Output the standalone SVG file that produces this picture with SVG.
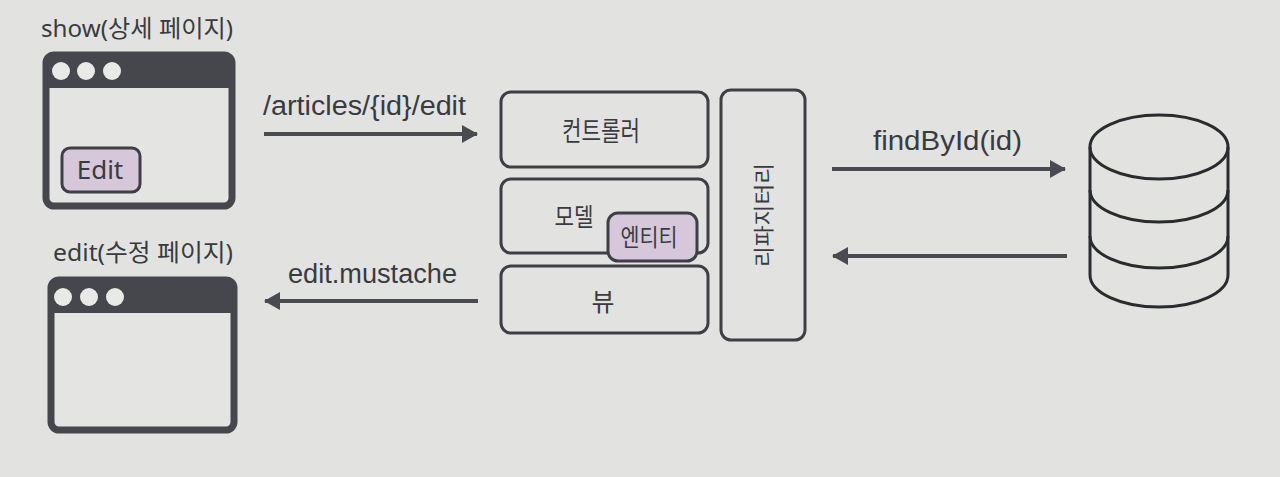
<svg xmlns="http://www.w3.org/2000/svg" width="1280" height="477" viewBox="0 0 1280 477">
<defs>
<style>
.bg{fill:#e2e3e1}
.win{fill:#e4e5e3;stroke:#46474d;stroke-width:7}
.bar{fill:#46474d}
.dot{fill:#e9eae8}
.box{fill:#e2e3e1;stroke:#3e3f44;stroke-width:3}
.pill{fill:#d7c7da;stroke:#3e3f44;stroke-width:3}
.lbl{font-family:"Noto Sans","Noto Sans CJK KR",sans-serif;fill:#3a3b40}
.k{font-family:"Noto Sans CJK KR","Noto Sans",sans-serif;fill:#3a3b40;text-anchor:middle}
.a{font-family:"Liberation Sans",Arial,sans-serif;fill:#3a3b40;font-size:27px}
.conn{stroke:#4a4b50;stroke-width:4;fill:none}
.db{fill:none;stroke:#2a2b2e;stroke-width:3}
</style>
<marker id="ah" viewBox="0 0 16 18" refX="15" refY="9" markerWidth="16" markerHeight="18" markerUnits="userSpaceOnUse" orient="auto">
<path d="M0,0 L16,9 L0,18 Z" fill="#4a4b50"/>
</marker>
</defs>
<rect class="bg" width="1280" height="477"/>

<g id="show-page">
<text class="lbl" x="41" y="37" font-size="24" textLength="192" lengthAdjust="spacingAndGlyphs">show(상세 페이지)</text>
<rect class="win" x="46" y="55" width="186" height="151" rx="8"/>
<path class="bar" d="M46,63 a8,8 0 0 1 8,-8 h170 a8,8 0 0 1 8,8 v25 h-186 z"/>
<circle class="dot" cx="61" cy="71" r="9"/>
<circle class="dot" cx="86" cy="71" r="9"/>
<circle class="dot" cx="112" cy="71" r="9"/>
<rect class="pill" x="62" y="148" width="78" height="44" rx="8"/>
<text class="lbl" x="100" y="179" font-size="26" text-anchor="middle">Edit</text>
</g>

<g id="edit-page">
<text class="lbl" x="53" y="261" font-size="24" textLength="180" lengthAdjust="spacingAndGlyphs">edit(수정 페이지)</text>
<rect class="win" x="51" y="280" width="183" height="150" rx="8"/>
<path class="bar" d="M51,288 a8,8 0 0 1 8,-8 h167 a8,8 0 0 1 8,8 v25 h-183 z"/>
<circle class="dot" cx="63" cy="297" r="9"/>
<circle class="dot" cx="89" cy="297" r="9"/>
<circle class="dot" cx="115" cy="297" r="9"/>
</g>

<g id="controller">
<rect class="box" x="501" y="92" width="207" height="75" rx="10"/>
<text class="k" x="601" y="141" font-size="27" textLength="78" lengthAdjust="spacingAndGlyphs">컨트롤러</text>
</g>

<g id="model">
<rect class="box" x="501" y="179" width="207" height="74" rx="10"/>
<text class="k" x="574" y="226" font-size="25" textLength="39" lengthAdjust="spacingAndGlyphs">모델</text>
</g>

<g id="entity">
<rect class="pill" x="608" y="213" width="89" height="48" rx="10"/>
<text class="k" x="649" y="246" font-size="24" textLength="57" lengthAdjust="spacingAndGlyphs">엔티티</text>
</g>

<g id="view">
<rect class="box" x="501" y="266" width="207" height="67" rx="10"/>
<text class="k" x="603" y="311" font-size="25">뷰</text>
</g>

<g id="repository">
<rect class="box" x="721" y="90" width="84" height="250" rx="10"/>
<text class="k" transform="translate(771,215) rotate(-90)" x="0" y="0" font-size="21" textLength="104" lengthAdjust="spacingAndGlyphs">리파지터리</text>
</g>

<g id="database">
<ellipse class="db" cx="1159" cy="147" rx="69" ry="32"/>
<path class="db" d="M1090,147 V275 A69,32 0 0 0 1228,275 V147"/>
<path class="db" d="M1090,190 A69,32 0 0 0 1228,190"/>
<path class="db" d="M1090,236 A69,32 0 0 0 1228,236"/>
</g>

<g id="connectors">
<line class="conn" x1="264" y1="134" x2="477" y2="134" marker-end="url(#ah)"/>
<text class="a" x="263" y="115" textLength="203" lengthAdjust="spacingAndGlyphs">/articles/{id}/edit</text>
<line class="conn" x1="478" y1="301" x2="265" y2="301" marker-end="url(#ah)"/>
<text class="a" x="288" y="283" textLength="169" lengthAdjust="spacingAndGlyphs">edit.mustache</text>
<line class="conn" x1="832" y1="169" x2="1065" y2="169" marker-end="url(#ah)"/>
<text class="a" x="873" y="150" textLength="149" lengthAdjust="spacingAndGlyphs">findById(id)</text>
<line class="conn" x1="1067" y1="256" x2="833" y2="256" marker-end="url(#ah)"/>
</g>
</svg>
